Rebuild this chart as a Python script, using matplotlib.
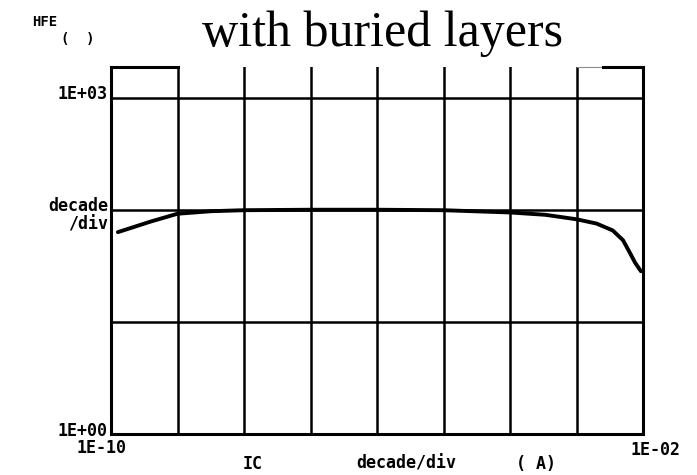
import numpy as np
import matplotlib as mpl
mpl.use('agg')
import matplotlib.pyplot as plt

# HFE vs IC sweep (log-log), read at the decade lines and along the roll-off
ic = [1.27e-10, 1.93e-10, 3.9e-10, 1.0e-9, 3.2e-9, 1.0e-8, 1.0e-7, 1.0e-6,
      1.0e-5, 1.0e-4, 3.4e-4, 1.0e-3, 2.0e-3, 3.5e-3, 5.0e-3, 6.3e-3,
      7.6e-3, 9.3e-3]
hfe = [63.7, 69.0, 79.0, 93.0, 98.0, 100.0, 101.0, 101.0,
       100.0, 95.5, 91.0, 83.0, 76.0, 66.0, 54.0, 42.0,
       34.0, 28.5]

x_range = (1e-10, 1e-2)
y_range = (1.0, 10 ** 3.28)
x_labels = ['1E-10', '1E-02']
y_labels = ['1E+00', '1E+03']

W, H = 697, 475
fig = plt.figure(figsize=(W / 100, H / 100), dpi=100)
ax = fig.add_axes([111 / W, 41 / H, 532 / W, 367 / H])

ax.set_xscale('log')
ax.set_yscale('log')
ax.set_xlim(*x_range)
ax.set_ylim(*y_range)

ax.set_xticks(10.0 ** np.arange(-10, -1))
ax.set_yticks(10.0 ** np.arange(0, 4))
ax.xaxis.set_minor_locator(mpl.ticker.NullLocator())
ax.yaxis.set_minor_locator(mpl.ticker.NullLocator())
ax.tick_params(which='both', length=0, labelbottom=False, labelleft=False)
ax.grid(True, color='black', lw=1.8)

for side in ('left', 'bottom', 'right'):
    ax.spines[side].set_linewidth(2.2)
ax.spines['top'].set_visible(False)

# top edge only partly drawn by the plotter
ytop = y_range[1]
ax.plot([1e-10, 1e-9], [ytop, ytop], color='black', lw=2.2, clip_on=False)
ax.plot([1e-3, 10 ** -2.6], [ytop, ytop], color='0.55', lw=0.8, clip_on=False)
ax.plot([10 ** -2.6, 1e-2], [ytop, ytop], color='black', lw=2.2, clip_on=False)

ax.plot(ic, hfe, color='black', lw=2.8, solid_capstyle='round')

mono = dict(family='DejaVu Sans Mono', weight='bold', fontsize=12)


def ftext(px, py, s, **kw):
    opts = dict(mono)
    opts.update(kw)
    fig.text(px / W, 1 - py / H, s, **opts)


ftext(45, 26, 'HFE', ha='center', va='baseline', fontsize=10)
ftext(78, 43, '(  )', ha='center', va='baseline', fontsize=10)
ftext(108, 99, y_labels[1], ha='right', va='baseline')
ftext(108, 211, 'decade', ha='right', va='baseline')
ftext(108, 230, '/div', ha='right', va='baseline')
ftext(108, 436, y_labels[0], ha='right', va='baseline')
ftext(101, 453, x_labels[0], ha='center', va='baseline')
ftext(656, 455, x_labels[1], ha='center', va='baseline')
ftext(253, 469, 'IC', ha='center', va='baseline')
ftext(406, 469, 'decade/div', ha='center', va='baseline')
ftext(536, 469, '( A)', ha='center', va='baseline')

fig.text(383 / W, 1 - 46 / H, 'with buried layers', ha='center',
         va='baseline', family='Liberation Serif', fontsize=36)

fig.savefig('out.png', dpi=100)
